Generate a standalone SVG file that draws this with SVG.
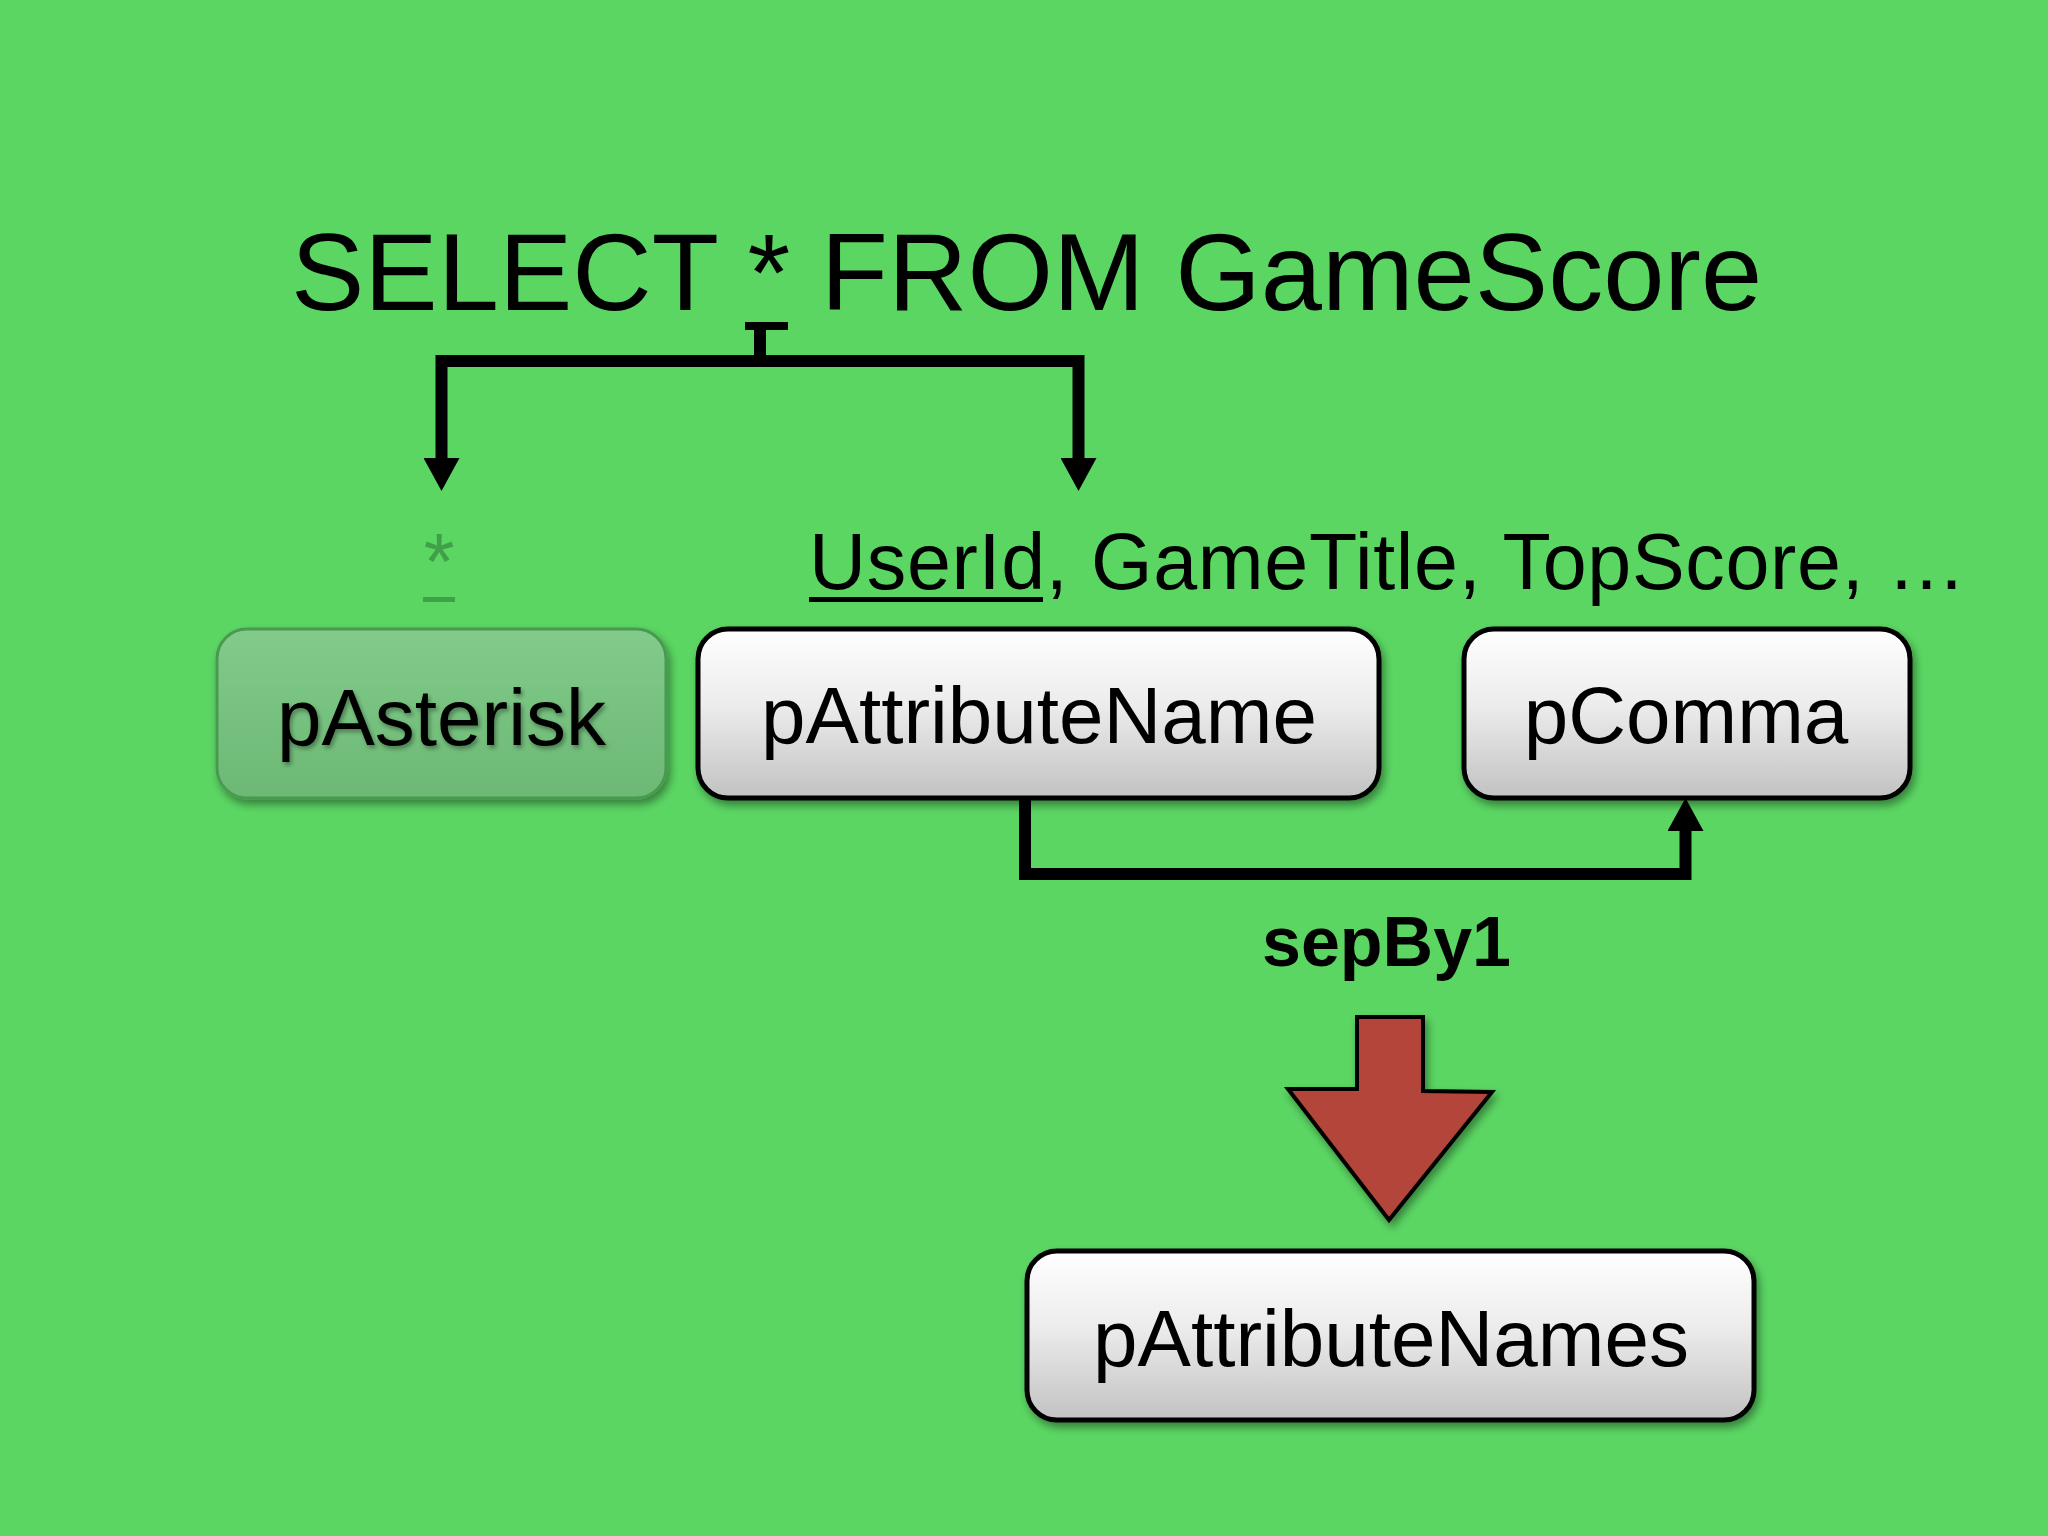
<svg xmlns="http://www.w3.org/2000/svg" width="2048" height="1536" viewBox="0 0 2048 1536">
<style>
.t{font-family:"Liberation Sans",Arial,sans-serif;fill:#000}
.lbl{font-family:"Liberation Sans",Arial,sans-serif;font-size:80px;fill:#000;text-anchor:middle}
.box{fill:url(#gw);stroke:#000;stroke-width:5}
.conn{fill:none;stroke:#000;stroke-width:12;stroke-linejoin:miter;stroke-linecap:butt}
</style>
<defs>
<linearGradient id="gw" x1="0" y1="0" x2="0" y2="1">
<stop offset="0" stop-color="#ffffff"/>
<stop offset="0.45" stop-color="#ececec"/>
<stop offset="1" stop-color="#c2c2c2"/>
</linearGradient>
<linearGradient id="gg" x1="0" y1="0" x2="0" y2="1">
<stop offset="0" stop-color="#82cb8b"/>
<stop offset="1" stop-color="#6cb874"/>
</linearGradient>
<filter id="sh" x="-10%" y="-10%" width="125%" height="130%">
<feDropShadow dx="3" dy="5" stdDeviation="4" flood-color="#000" flood-opacity="0.4"/>
</filter>
<filter id="tsh" x="-5%" y="-10%" width="110%" height="130%">
<feDropShadow dx="2" dy="3" stdDeviation="2" flood-color="#000" flood-opacity="0.35"/>
</filter>
<marker id="ah" viewBox="0 0 33 36" refX="0" refY="18" markerWidth="33" markerHeight="36" markerUnits="userSpaceOnUse" orient="auto">
<path d="M0,0 L33,18 L0,36 Z" fill="#000"/>
</marker>
</defs>
<rect width="2048" height="1536" fill="#5bd663"/>

<g id="title">
<text class="t" x="291" y="310" font-size="110">SELECT * FROM GameScore</text>
<rect x="745" y="322" width="43" height="8" fill="#000"/>
</g>

<g id="attr-line">
<text class="t" x="809" y="589" font-size="79" textLength="1157" lengthAdjust="spacing">UserId, GameTitle, TopScore, …</text>
<rect x="809" y="597" width="234" height="5" fill="#000"/>
</g>

<g id="asterisk-label">
<text class="t" x="439" y="589" font-size="79" text-anchor="middle" style="fill:#40a049">*</text>
<rect x="423" y="597" width="32" height="5" fill="#40a049"/>
</g>

<g id="connectors">
<path class="conn" d="M760,322 V361 H441.5 V458" marker-end="url(#ah)"/>
<path class="conn" d="M760,361 H1078.5 V458" marker-end="url(#ah)"/>
<path class="conn" d="M1025,798 V874 H1685.5 V831" marker-end="url(#ah)"/>
</g>

<g id="pAsterisk">
<rect x="217" y="629" width="449" height="169" rx="30" fill="url(#gg)" stroke="#4a9a51" stroke-width="3" filter="url(#sh)"/>
<text class="lbl" x="441.5" y="745" filter="url(#tsh)">pAsterisk</text>
</g>

<g id="pAttributeName">
<rect class="box" x="698" y="629" width="681" height="169" rx="30" filter="url(#sh)"/>
<text class="lbl" x="1039" y="743">pAttributeName</text>
</g>

<g id="pComma">
<rect class="box" x="1464" y="629" width="446" height="169" rx="30" filter="url(#sh)"/>
<text class="lbl" x="1686" y="743">pComma</text>
</g>

<g id="sepBy1">
<text class="t" x="1386.5" y="966" font-size="70" font-weight="bold" text-anchor="middle">sepBy1</text>
</g>

<g id="big-arrow">
<polygon points="1357,1017 1423,1017 1423,1091 1492,1092 1389,1220 1288,1089 1357,1089" fill="#b3443a" stroke="#000" stroke-width="4" stroke-linejoin="miter" filter="url(#sh)"/>
</g>

<g id="pAttributeNames">
<rect class="box" x="1027" y="1251" width="727" height="169" rx="30" filter="url(#sh)"/>
<text class="lbl" x="1391" y="1366">pAttributeNames</text>
</g>
</svg>
